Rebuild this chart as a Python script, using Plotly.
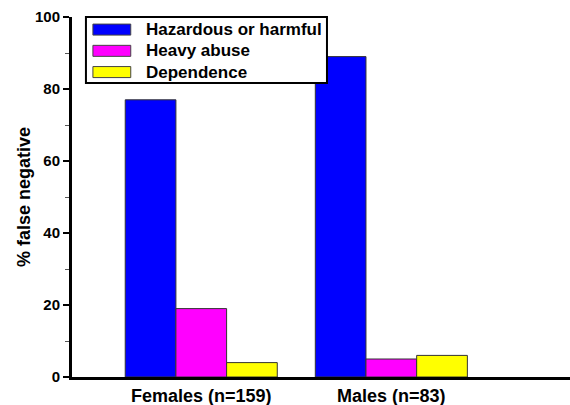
import plotly.graph_objects as go

groups = ["Females (n=159)", "Males (n=83)"]
series_names = ["Hazardous or harmful", "Heavy abuse", "Dependence"]
hazardous = [77, 89]
heavy_abuse = [19, 5]
dependence = [4, 6]
colors = ["#0000FF", "#FF00FF", "#FFFF00"]
y_ticks = [0, 20, 40, 60, 80, 100]

FONT = "Liberation Sans, Arial, sans-serif"

fig = go.Figure()
for name, vals, col in zip(series_names, [hazardous, heavy_abuse, dependence], colors):
    fig.add_trace(go.Bar(
        x=groups, y=vals, name=name, showlegend=False,
        marker=dict(color=col, line=dict(color="#333333", width=1)),
    ))

# custom legend (wide swatches as in the reference)
shapes = [dict(type="rect", xref="paper", yref="paper", x0=0.028, x1=0.512, y0=0.817, y1=1.0,
               line=dict(color="black", width=2), fillcolor="white", layer="above")]
annotations = []
row_y = [0.965, 0.906, 0.847]
for name, col, yy in zip(series_names, colors, row_y):
    shapes.append(dict(type="rect", xref="paper", yref="paper", x0=0.042, x1=0.118,
                       y0=yy - 0.0153, y1=yy + 0.0153,
                       line=dict(color="#444444", width=1), fillcolor=col, layer="above"))
    annotations.append(dict(xref="paper", yref="paper", x=0.1446, y=yy, xanchor="left", yanchor="middle",
                            text=name, showarrow=False,
                            font=dict(family=FONT, size=17, weight="bold", color="black")))

fig.update_layout(
    width=570, height=405,
    margin=dict(l=72, r=0, t=17, b=28),
    paper_bgcolor="white", plot_bgcolor="white",
    barmode="group", bargap=0.2, bargroupgap=0,
    font=dict(family=FONT, color="black", size=14, weight="bold"),
    showlegend=False,
    shapes=shapes, annotations=annotations,
    xaxis=dict(
        range=[-0.68, 1.94], showgrid=False,
        showline=True, linecolor="black", linewidth=3,
        ticks="", tickfont=dict(size=18, family=FONT, weight="bold"),
        automargin=False,
    ),
    yaxis=dict(
        range=[0, 100], tickvals=y_ticks, showgrid=False,
        showline=True, linecolor="black", linewidth=3,
        ticks="outside", ticklen=6, tickwidth=2, tickcolor="black",
        minor=dict(dtick=10, ticks="outside", ticklen=4, tickwidth=1, tickcolor="#555555"),
        tickfont=dict(size=15, family=FONT, weight="bold"),
        title=dict(text="% false negative", font=dict(size=18, family=FONT, weight="bold"), standoff=0),
        zeroline=False, automargin=False,
    ),
)

fig.write_html("out.html", config={"displayModeBar": False},
               post_script="document.body.style.margin='0';document.body.style.overflow='hidden';")
